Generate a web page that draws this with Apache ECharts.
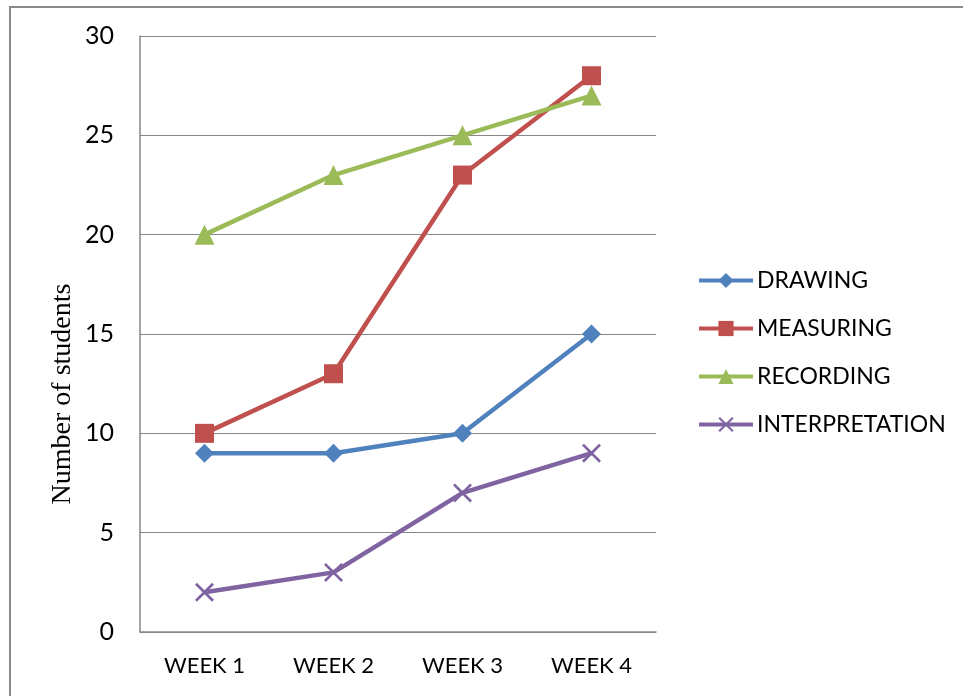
<!DOCTYPE html>
<html>
<head>
<meta charset="utf-8">
<script src="https://cdn.jsdelivr.net/npm/echarts@6/dist/echarts.min.js"></script>
<style>
html, body { margin: 0; padding: 0; background: #fff; }
#chart { width: 963px; height: 696px; }
</style>
</head>
<body>
<div id="chart"></div>
<script>
// Weekly counts of students per skill
const weeks = ['WEEK 1', 'WEEK 2', 'WEEK 3', 'WEEK 4'];
const drawing = [9, 9, 10, 15];
const measuring = [10, 13, 23, 28];
const recording = [20, 23, 25, 27];
const interpretation = [2, 3, 7, 9];

const crossSymbol = 'path://M0,1L1,0L5,4L9,0L10,1L6,5L10,9L9,10L5,6L1,10L0,9L4,5Z';
const labelFont = 'Lato, "Open Sans", sans-serif';

function lineSeries(name, data, color, symbol, size) {
  return {
    name: name,
    type: 'line',
    data: data,
    symbol: symbol,
    symbolSize: size,
    lineStyle: { color: color, width: 4.5 },
    itemStyle: { color: color },
    emphasis: { disabled: true },
    z: 3
  };
}

const chart = echarts.init(document.getElementById('chart'), null, { renderer: 'canvas' });
chart.setOption({
  animation: false,
  backgroundColor: '#ffffff',
  grid: { left: 140, top: 36, width: 516, height: 596, containLabel: false },
  xAxis: {
    type: 'category',
    data: weeks,
    boundaryGap: true,
    axisLine: { show: true, lineStyle: { color: '#868686', width: 1.5 } },
    axisTick: { show: false },
    axisLabel: { color: '#000', fontSize: 22, fontFamily: labelFont, margin: 23 }
  },
  yAxis: {
    type: 'value',
    min: 0,
    max: 30,
    interval: 5,
    axisLine: { show: true, lineStyle: { color: '#868686', width: 1.5 } },
    axisTick: { show: false },
    splitLine: { show: true, lineStyle: { color: '#868686', width: 1 } },
    axisLabel: { color: '#000', fontSize: 25, fontFamily: labelFont, margin: 26 }
  },
  legend: {
    orient: 'vertical',
    left: 692,
    top: 264,
    itemWidth: 54,
    itemHeight: 19,
    itemGap: 25,
    lineStyle: { width: 4 },
    textStyle: { color: '#000', fontSize: 23, fontFamily: labelFont, padding: [0, 0, 0, -1] },
    data: ['DRAWING', 'MEASURING', 'RECORDING', 'INTERPRETATION']
  },
  graphic: [
    {
      type: 'rect',
      shape: { x: 10, y: 7, width: 1000, height: 800 },
      style: { fill: 'none', stroke: '#8a8a8a', lineWidth: 2 },
      silent: true
    },
    {
      type: 'text',
      x: 63,
      y: 394,
      rotation: Math.PI / 2,
      style: {
        text: 'Number of students',
        font: '28px "Liberation Serif", "Times New Roman", serif',
        fill: '#000',
        align: 'center',
        verticalAlign: 'middle'
      },
      silent: true
    }
  ],
  series: [
    lineSeries('DRAWING', drawing, '#4F81BD', 'diamond', 19),
    lineSeries('MEASURING', measuring, '#C0504D', 'rect', 19),
    lineSeries('RECORDING', recording, '#9BBB59', 'triangle', 20),
    lineSeries('INTERPRETATION', interpretation, '#8064A2', crossSymbol, 19)
  ]
});
</script>
</body>
</html>
